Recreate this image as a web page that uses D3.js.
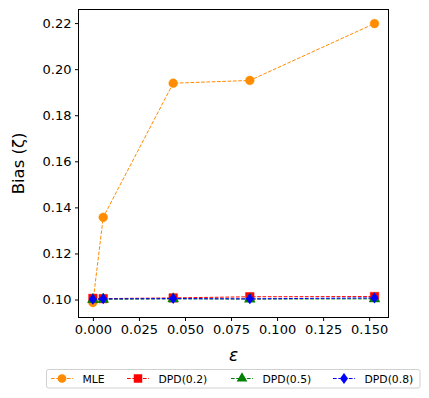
<!DOCTYPE html>
<html>
<head>
<meta charset="utf-8">
<script src="https://cdn.jsdelivr.net/npm/d3@7"></script>
<style>
  body { margin: 0; background: #fff; }
  svg { font-family: "DejaVu Sans", sans-serif; }
</style>
</head>
<body>
<svg id="chart" width="429" height="398"></svg>
<script>
(function () {
    var width = 429, height = 398

    // contamination levels
    const eps = [0, 0.0056, 0.0436, 0.0852, 0.1529];

    const mle = [0.0987, 0.1357, 0.1939, 0.1951, 0.2198];
    const dpd02 = [0.1005, 0.1004, 0.1007, 0.1012, 0.1013];
    const dpd05 = [0.1000, 0.1001, 0.1003, 0.1002, 0.1003];
    const dpd08 = [0.1001, 0.1003, 0.1004, 0.1003, 0.1007];

    const seriesNames = ["MLE", "DPD(0.2)", "DPD(0.5)", "DPD(0.8)"];
    const xTicks = [0, 0.025, 0.05, 0.075, 0.1, 0.125, 0.15];
    const yTicks = [0.10, 0.12, 0.14, 0.16, 0.18, 0.20, 0.22];

    const series = [
        { name: seriesNames[0], values: mle, color: "#ff8c00", symbol: "circle" },
        { name: seriesNames[1], values: dpd02, color: "#ff0000", symbol: "square" },
        { name: seriesNames[2], values: dpd05, color: "#008000", symbol: "triangle" },
        { name: seriesNames[3], values: dpd08, color: "#0000ff", symbol: "diamond" }
    ];

    const margin = { left: 78.5, right: 429 - 388.5, top: 9.5, bottom: 398 - 317.5 };
    const svg = d3.select("#chart");

    const x = d3.scaleLinear()
        .domain([-0.00782, 0.1605])
        .range([margin.left, width - margin.right]);
    const y = d3.scaleLinear()
        .domain([0.0922, 0.2259])
        .range([height - margin.bottom, margin.top]);

    //axes
    svg.append("g")
        .attr("transform", `translate(0,${height - margin.bottom})`)
        .call(d3.axisBottom(x).tickValues(xTicks).tickFormat(d3.format(".3f")).tickSize(3.5).tickPadding(3.5))
        .call(g => g.select(".domain").remove())
        .call(g => g.selectAll("text").attr("font-size", 13).attr("fill", "#000").attr("font-family", "DejaVu Sans"));

    svg.append("g")
        .attr("transform", `translate(${margin.left},0)`)
        .call(d3.axisLeft(y).tickValues(yTicks).tickFormat(d3.format(".2f")).tickSize(3.5).tickPadding(3.5))
        .call(g => g.select(".domain").remove())
        .call(g => g.selectAll("text").attr("font-size", 13).attr("fill", "#000").attr("font-family", "DejaVu Sans"));

    const line = d3.line()
        .x((d, i) => x(eps[i]))
        .y(d => y(d));

    function symbolFor(s) {
        if (s === "circle") return d3.symbol().type(d3.symbolCircle).size(60);
        if (s === "square") return d3.symbol().type(d3.symbolSquare).size(72);
        if (s === "triangle") return d3.symbol().type(d3.symbolTriangle).size(50);
        return d3.symbol().type(d3.symbolSquare).size(50);
    }
    // matplotlib 'd' marker: a narrow diamond
    const diamondScale = "scale(0.8,1.1) rotate(45)";

    const plot = svg.append("g");
    series.forEach(s => {
        plot.append("path")
            .attr("d", line(s.values))
            .attr("fill", "none")
            .attr("stroke", s.color)
            .attr("stroke-width", 1)
            .attr("stroke-dasharray", "3.7,1.6");
        plot.selectAll(null)
            .data(s.values)
            .join("path")
            .attr("transform", (d, i) => `translate(${x(eps[i])},${y(d)})` +
                (s.symbol === "diamond" ? " " + diamondScale : ""))
            .attr("d", symbolFor(s.symbol)())
            .attr("fill", s.color)
            .attr("stroke", s.color)
            .attr("stroke-width", s.symbol === "diamond" ? 0 : 0.5);
    });

    //frame
    svg.append("rect")
        .attr("x", margin.left).attr("y", margin.top)
        .attr("width", width - margin.left - margin.right)
        .attr("height", height - margin.top - margin.bottom)
        .attr("fill", "none").attr("stroke", "#000").attr("stroke-width", 1);

    //axis labels
    svg.append("text")
        .attr("x", (margin.left + width - margin.right) / 2)
        .attr("y", 361)
        .attr("text-anchor", "middle")
        .attr("font-size", 17)
        .attr("font-style", "italic")
        .text("ε");

    svg.append("text")
        .attr("transform", `translate(24,${(margin.top + height - margin.bottom) / 2}) rotate(-90)`)
        .attr("text-anchor", "middle")
        .attr("font-size", 16.5)
        .text("Bias (ζ)");

    //legend
    const legend = svg.append("g");
    legend.append("rect")
        .attr("x", 46.5).attr("y", 369.5).attr("width", 373.5).attr("height", 18.5)
        .attr("rx", 2).attr("fill", "#fff").attr("stroke", "#d0d0d0").attr("stroke-width", 1);
    const handleX = [51, 127, 231, 333];
    series.forEach((s, i) => {
        const g = legend.append("g").attr("transform", `translate(${handleX[i]},378.5)`);
        g.append("line").attr("x1", 0).attr("x2", 22)
            .attr("stroke", s.color).attr("stroke-width", 1).attr("stroke-dasharray", "3.7,1.6");
        g.append("path")
            .attr("fill", s.color)
            .attr("d", symbolFor(s.symbol)())
            .attr("transform", "translate(11,0)" + (s.symbol === "diamond" ? " " + diamondScale : ""));
        g.append("text")
            .attr("x", 31.5).attr("y", 4)
            .attr("font-size", 10.8)
            .text(s.name);
    });
})();
</script>
</body>
</html>
